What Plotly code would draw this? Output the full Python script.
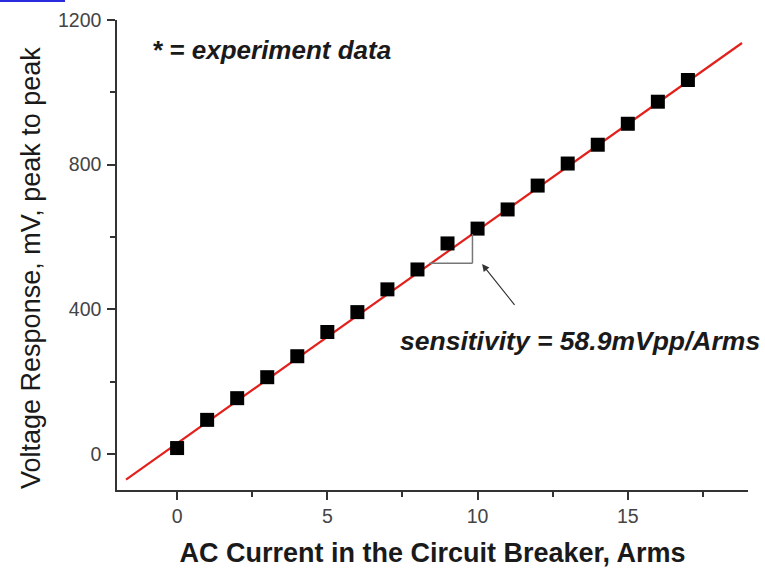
import plotly.graph_objects as go

current = list(range(0, 18))
voltage = [16, 94, 154, 212, 270, 337, 392, 455, 510, 582, 623, 676, 742, 803, 855, 913, 974, 1034]
fit_x = [-1.7, 18.8]
slope = 58.9
intercept = 29
fit_y = [intercept + slope * v for v in fit_x]

W, H = 765, 569
L, R, T, B = 117, 17, 20, 79
pw, ph = W - L - R, H - T - B


def px(xp):
    return (xp - L) / pw


def py(yp):
    return (H - B - yp) / ph


FONT = "Liberation Sans, Arial, sans-serif"

fig = go.Figure()
fig.add_trace(go.Scatter(x=fit_x, y=fit_y, mode="lines",
                         line=dict(color="#e3211c", width=2.2), showlegend=False))
fig.add_trace(go.Scatter(x=current, y=voltage, mode="markers",
                         marker=dict(symbol="square", size=14, color="black"),
                         showlegend=False))

# slope triangle
tri_x0, tri_x1, tri_y = 8.4, 9.83, 527
fig.add_shape(type="line", x0=tri_x0, x1=tri_x1, y0=tri_y, y1=tri_y,
              line=dict(color="#777777", width=1.5))
fig.add_shape(type="line", x0=tri_x1, x1=tri_x1, y0=tri_y, y1=intercept + slope * tri_x1,
              line=dict(color="#777777", width=1.5))

fig.add_annotation(x=10.15, y=525, ax=11.27, ay=408, xref="x", yref="y",
                   axref="x", ayref="y", text="", showarrow=True,
                   arrowhead=2, arrowsize=1.2, arrowwidth=1.2, arrowcolor="#333333")

fig.add_annotation(x=px(580), y=py(341), xref="paper", yref="paper",
                   xanchor="center", yanchor="middle",
                   text="<b><i>sensitivity = 58.9mVpp/Arms</i></b>",
                   showarrow=False, font=dict(size=26.5, color="#1a1a1a", family=FONT))
fig.add_annotation(x=px(271), y=py(50), xref="paper", yref="paper",
                   xanchor="center", yanchor="middle",
                   text="<b><i>* = experiment data</i></b>",
                   showarrow=False, font=dict(size=26, color="#1a1a1a", family=FONT))

# y-axis title
fig.add_annotation(x=px(31), y=py(268), xref="paper", yref="paper",
                   xanchor="center", yanchor="middle", textangle=-90,
                   text="Voltage Response, mV, peak to peak",
                   showarrow=False, font=dict(size=27, color="#1a1a1a", family=FONT))

fig.add_shape(type="line", xref="paper", yref="paper",
              x0=px(0), x1=px(65), y0=py(1), y1=py(1),
              line=dict(color="#2a2adf", width=2))

axis_common = dict(showgrid=False, zeroline=False, showline=True, linecolor="#333333",
                   linewidth=1.5, ticks="outside", ticklen=8, tickwidth=1.5, tickcolor="#333333",
                   tickfont=dict(size=19.5, color="#444444", family=FONT))

fig.update_xaxes(range=[-2, 19], tickvals=[0, 5, 10, 15],
                 minor=dict(tickvals=[2.5, 7.5, 12.5, 17.5], ticks="outside", ticklen=5,
                            tickwidth=1.5, tickcolor="#333333"),
                 title=dict(text="<b>AC Current in the Circuit Breaker, Arms</b>",
                            font=dict(size=27, color="#1a1a1a", family=FONT), standoff=17),
                 **axis_common)
fig.update_yaxes(range=[-100, 1200], tickvals=[0, 400, 800, 1200],
                 minor=dict(tickvals=[200, 600, 1000], ticks="outside", ticklen=5,
                            tickwidth=1.5, tickcolor="#333333"),
                 ticklabelstandoff=2,
                 **axis_common)

fig.update_layout(width=W, height=H, margin=dict(l=L, r=R, t=T, b=B, autoexpand=False),
                  plot_bgcolor="white", paper_bgcolor="white",
                  font=dict(family=FONT))

fig.write_html("out.html", config={"displayModeBar": False},
               post_script="document.body.style.margin='0';")
